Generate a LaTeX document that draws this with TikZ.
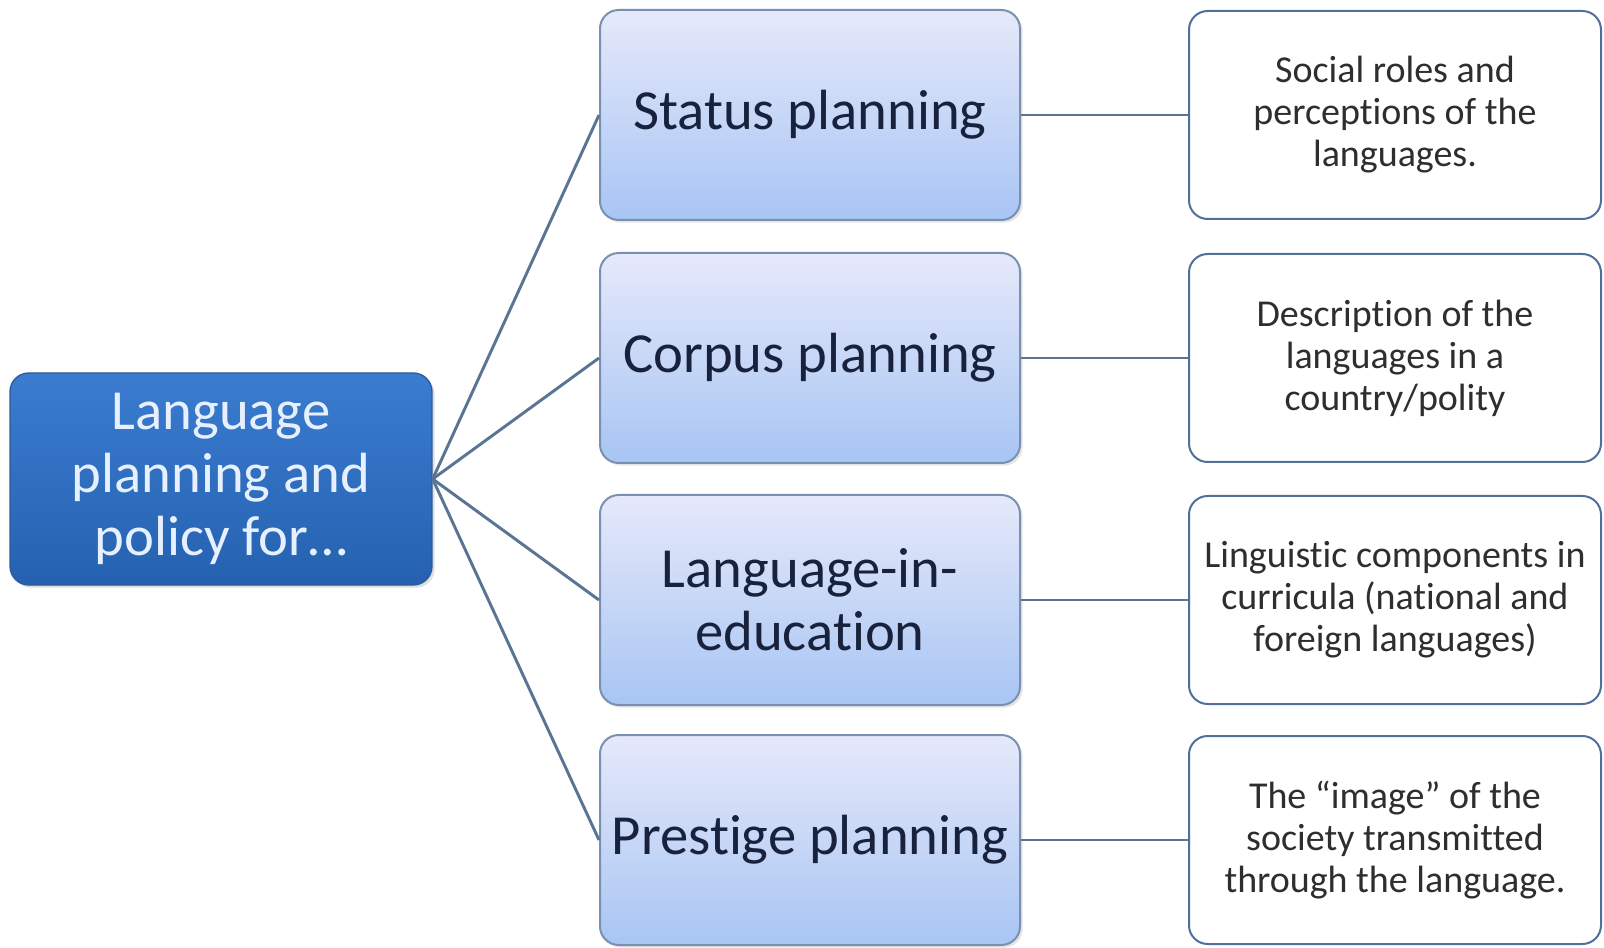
\documentclass[tikz,border=0pt]{standalone}
\usepackage{fontspec}
\setmainfont{Carlito}[Ligatures=NoCommon]
\usetikzlibrary{shadows}
\definecolor{rootTop}{HTML}{3B7CD0}
\definecolor{rootBot}{HTML}{2561B0}
\definecolor{rootBorder}{HTML}{2A5C9E}
\definecolor{rootText}{HTML}{E6F0FF}
\definecolor{midTop}{HTML}{E6E9FA}
\definecolor{midBot}{HTML}{A8C5F4}
\definecolor{midBorder}{HTML}{7A90B0}
\definecolor{midText}{HTML}{18223C}
\definecolor{rightBorder}{HTML}{50709A}
\definecolor{rightText}{HTML}{2E2E2E}
\definecolor{connCol}{HTML}{5A7494}
\begin{document}
\begin{tikzpicture}[x=0.75pt,y=-0.75pt,
  rootbox/.style={rounded corners=14pt, top color=rootTop, bottom color=rootBot,
    draw=rootBorder, line width=1pt, minimum width=316.5pt, minimum height=159pt,
    text=rootText, font=\fontsize{42.5}{47}\selectfont, align=center,
    drop shadow={opacity=0.25, shadow xshift=2pt, shadow yshift=-2pt}},
  midbox/.style={rounded corners=14pt, top color=midTop, bottom color=midBot,
    draw=midBorder, line width=1.5pt, minimum width=315pt, minimum height=157.5pt,
    text=midText, font=\fontsize{42.5}{47}\selectfont, align=center, inner sep=1pt,
    drop shadow={opacity=0.2, shadow xshift=2pt, shadow yshift=-2pt}},
  rightbox/.style={rounded corners=14pt, fill=white, draw=rightBorder,
    line width=1.5pt, minimum width=309pt, minimum height=156pt,
    text=rightText, font=\fontsize{28.5}{31.5}\selectfont, align=center, inner sep=1pt},
  conn/.style={draw=connCol, line width=2.2pt}
]
\useasboundingbox (0,0) rectangle (1604,948);
\fill[white] (0,0) rectangle (1604,948);

\node[rootbox] (root) at (221,479) {Language\\planning and\\policy for…};

\node[midbox] (m1) at (810,115) {Status planning};
\node[midbox] (m2) at (810,358) {Corpus planning};
\node[midbox] (m3) at (810,600) {Language-in-\\education};
\node[midbox] (m4) at (810,840) {Prestige planning};

\node[rightbox] (r1) at (1395,115) {Social roles and\\perceptions of the\\languages.};
\node[rightbox] (r2) at (1395,358) {Description of the\\languages in a\\country/polity};
\node[rightbox] (r3) at (1395,600) {Linguistic components in\\curricula (national and\\foreign languages)};
\node[rightbox] (r4) at (1395,840) {The “image” of the\\society transmitted\\through the language.};

\foreach \i in {1,2,3,4}{
  \draw[conn] (root.east) -- (m\i.west);
  \draw[conn] (m\i.east) -- (r\i.west);
}
\end{tikzpicture}
\end{document}
